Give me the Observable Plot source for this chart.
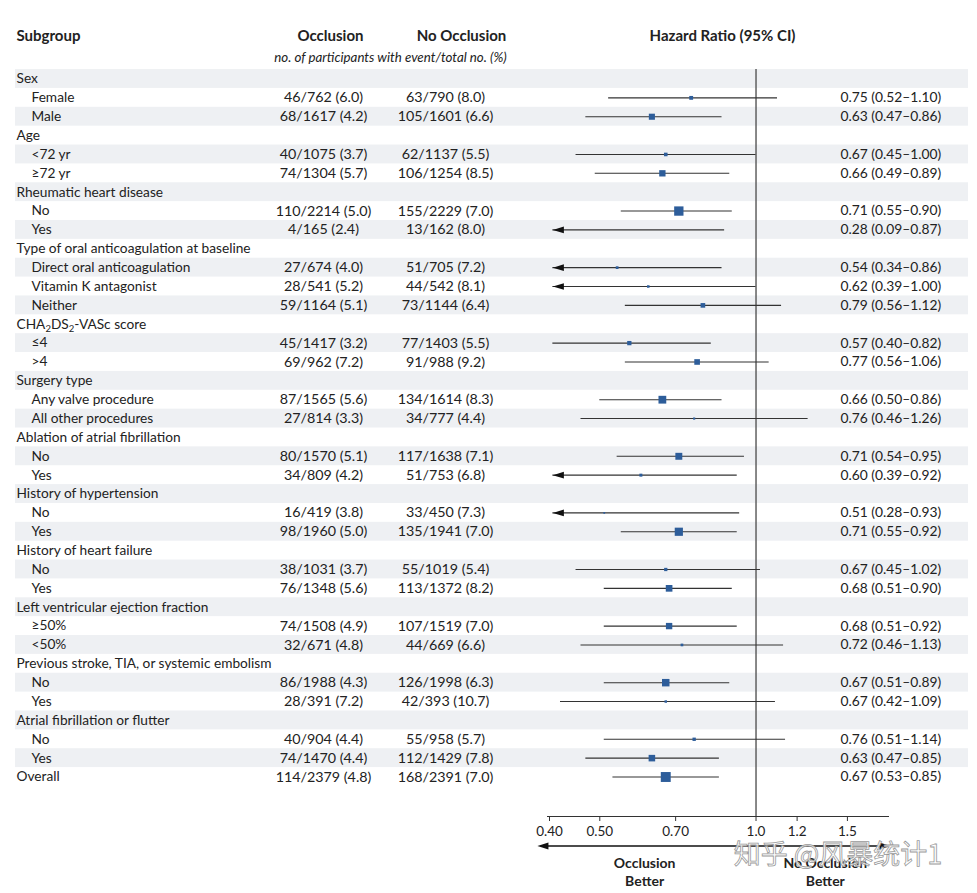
<!DOCTYPE html>
<html><head><meta charset="utf-8">
<script src="https://cdn.jsdelivr.net/npm/d3@7"></script>
<script src="https://cdn.jsdelivr.net/npm/@observablehq/plot@0.6"></script>
<style>body{margin:0;background:#fff;} svg{display:block;}</style>
</head><body><div id="chart"></div>
<script>
// ---- data ----
const groups = ["Sex","Age","Rheumatic heart disease","Type of oral anticoagulation at baseline","CHA2DS2-VASc score","Surgery type","Ablation of atrial fibrillation","History of hypertension","History of heart failure","Left ventricular ejection fraction","Previous stroke, TIA, or systemic embolism","Atrial fibrillation or flutter"];
const subgroups = [["Female","Male"],["<72 yr","≥72 yr"],["No","Yes"],["Direct oral anticoagulation","Vitamin K antagonist","Neither"],["≤4",">4"],["Any valve procedure","All other procedures"],["No","Yes"],["No","Yes"],["No","Yes"],["≥50%","<50%"],["No","Yes"],["No","Yes"]];
const overallLabel = "Overall";
const occEvents = [46,68,40,74,110,4,27,28,59,45,69,87,27,80,34,16,98,38,76,74,32,86,28,40,74,114];
const occTotal  = [762,1617,1075,1304,2214,165,674,541,1164,1417,962,1565,814,1570,809,419,1960,1031,1348,1508,671,1988,391,904,1470,2379];
const occPct    = [6.0,4.2,3.7,5.7,5.0,2.4,4.0,5.2,5.1,3.2,7.2,5.6,3.3,5.1,4.2,3.8,5.0,3.7,5.6,4.9,4.8,4.3,7.2,4.4,4.4,4.8];
const noEvents  = [63,105,62,106,155,13,51,44,73,77,91,134,34,117,51,33,135,55,113,107,44,126,42,55,112,168];
const noTotal   = [790,1601,1137,1254,2229,162,705,542,1144,1403,988,1614,777,1638,753,450,1941,1019,1372,1519,669,1998,393,958,1429,2391];
const noPct     = [8.0,6.6,5.5,8.5,7.0,8.0,7.2,8.1,6.4,5.5,9.2,8.3,4.4,7.1,6.8,7.3,7.0,5.4,8.2,7.0,6.6,6.3,10.7,5.7,7.8,7.0];
const hr        = [0.75,0.63,0.67,0.66,0.71,0.28,0.54,0.62,0.79,0.57,0.77,0.66,0.76,0.71,0.60,0.51,0.71,0.67,0.68,0.68,0.72,0.67,0.67,0.76,0.63,0.67];
const ciLow     = [0.52,0.47,0.45,0.49,0.55,0.09,0.34,0.39,0.56,0.40,0.56,0.50,0.46,0.54,0.39,0.28,0.55,0.45,0.51,0.51,0.46,0.51,0.42,0.51,0.47,0.53];
const ciHigh    = [1.10,0.86,1.00,0.89,0.90,0.87,0.86,1.00,1.12,0.82,1.06,0.86,1.26,0.95,0.92,0.93,0.92,1.02,0.90,0.92,1.13,0.89,1.09,1.14,0.85,0.85];
const tickValues = [0.4,0.5,0.7,1.0,1.2,1.5];
const tickLabels = ["0.40","0.50","0.70","1.0","1.2","1.5"];
const betterLabels = ["Occlusion\nBetter","No Occlusion\nBetter"];
const betterAt = [0.61, 1.36];
const betterArrowEnds = [0.38, 1.82];

// ---- build rows ----
const rows = [];
let i = 0, k = 0;
groups.forEach((g, gi) => {
  rows.push({i: i++, label: g, type: "group"});
  subgroups[gi].forEach(s => rows.push({i: i++, label: s, type: "sub", k: k++}));
});
rows.push({i: i++, label: overallLabel, type: "overall", k: k++});
const dataRows = rows.filter(r => r.k !== undefined).map(r => ({
  ...r,
  events: occEvents[r.k] + noEvents[r.k],
  occ: `${occEvents[r.k]}/${occTotal[r.k]} (${occPct[r.k].toFixed(1)})`,
  no: `${noEvents[r.k]}/${noTotal[r.k]} (${noPct[r.k].toFixed(1)})`,
  hr: hr[r.k], lo: ciLow[r.k], hi: ciHigh[r.k],
  hrText: `${hr[r.k].toFixed(2)} (${ciLow[r.k].toFixed(2)}–${ciHigh[r.k].toFixed(2)})`
}));
const xMin = 0.4, xMax = 1.8;
const tip = xMin * 1.015;
const shaded = rows.filter(r => r.i % 2 === 0);
const arrowRows = dataRows.filter(r => r.lo < xMin);
const ink = "#222";
const font = "Lato, 'Open Sans', sans-serif";

const chart = Plot.plot({
  width: 977, height: 893,
  marginLeft: 15, marginRight: 9, marginTop: 69, marginBottom: 77,
  style: {fontFamily: font, fontSize: "13.7px", color: ink, background: "#fff"},
  x: {type: "log", domain: [xMin, xMax], range: [549, 888]},
  y: {domain: [0, rows.length - 1], range: [78.5, 776.5], axis: null},
  r: {type: "linear", domain: [0, d3.max(dataRows, d => d.events)], range: [0, 5.6]},
  marks: [
    Plot.rect(shaded, {y1: d => d.i - 0.5, y2: d => d.i + 0.5, fill: "#eef0f3"}),
    Plot.ruleX([1], {stroke: "#555", strokeWidth: 1.4}),
    Plot.ruleY(dataRows, {y: "i", x1: d => Math.max(d.lo, tip), x2: "hi", stroke: "#333", strokeWidth: 1.1}),
    Plot.dot(arrowRows, {y: "i", x: () => tip, fill: "#111", stroke: null,
      symbol: {draw(ctx) { ctx.moveTo(0, 0); ctx.lineTo(11, -3.3); ctx.lineTo(11, 3.3); ctx.closePath(); }}}),
    Plot.dot(dataRows.filter(d => d.hr >= xMin), {x: "hr", y: "i", r: "events", symbol: "square", fill: "#2d5d9a", stroke: null}),
    // labels
    Plot.text(rows.filter(r => r.type !== "sub"), {y: "i", text: "label", frameAnchor: "left", textAnchor: "start", dx: 1, fill: ink}),
    Plot.text(rows.filter(r => r.type === "sub"), {y: "i", text: "label", frameAnchor: "left", textAnchor: "start", dx: 16, fill: ink}),
    Plot.text(dataRows, {y: "i", text: "occ", frameAnchor: "left", textAnchor: "middle", dx: 308, fill: ink, fontSize: 14.3}),
    Plot.text(dataRows, {y: "i", text: "no", frameAnchor: "left", textAnchor: "middle", dx: 430, fill: ink, fontSize: 14.3}),
    Plot.text(dataRows, {y: "i", text: "hrText", frameAnchor: "left", textAnchor: "start", dx: 825, fill: ink, fontSize: 13.8}),
    // headers
    Plot.text(["Subgroup"], {text: d => d, frameAnchor: "top-left", lineAnchor: "middle", textAnchor: "start", dx: 1, dy: -33, fontWeight: "bold", fontSize: 15, fill: ink}),
    Plot.text(["Occlusion"], {text: d => d, frameAnchor: "top-left", lineAnchor: "middle", textAnchor: "middle", dx: 315, dy: -33, fontWeight: "bold", fontSize: 15, fill: ink}),
    Plot.text(["No Occlusion"], {text: d => d, frameAnchor: "top-left", lineAnchor: "middle", textAnchor: "middle", dx: 446, dy: -33, fontWeight: "bold", fontSize: 15, fill: ink}),
    Plot.text(["no. of participants with event/total no. (%)"], {text: d => d, frameAnchor: "top-left", lineAnchor: "middle", textAnchor: "middle", dx: 375, dy: -12, fontStyle: "italic", fontSize: 13.3, fill: ink}),
    Plot.text(["Hazard Ratio (95% CI)"], {text: d => d, frameAnchor: "top-left", lineAnchor: "middle", textAnchor: "middle", dx: 707, dy: -33, fontWeight: "bold", fontSize: 15, fill: ink}),
    // axis
    Plot.frame({anchor: "bottom", insetLeft: 532, insetRight: 80, stroke: "#333"}),
    Plot.axisX({ticks: tickValues, tickFormat: d => tickLabels[tickValues.indexOf(d)], tickSize: 5, tickPadding: 5, label: null, fontSize: 13.5, stroke: "#333", color: ink}),
    Plot.text(betterLabels, {x: (d, j) => betterAt[j], text: d => d, frameAnchor: "bottom", lineAnchor: "middle", dy: 55, lineHeight: 1.3, fontWeight: "bold", fontSize: 14, fill: ink})
  ]
});
document.getElementById("chart").appendChild(chart);

// bottom direction arrows, positioned with the chart's x scale
const svg = d3.select(chart);
const sx = chart.scale("x");
const yArr = 846;
const gA = svg.append("g");
[[1, betterArrowEnds[0]], [1, betterArrowEnds[1]]].forEach(([a, b]) => {
  const x0 = sx.apply(a), x1 = sx.apply(b), s = Math.sign(x1 - x0);
  gA.append("line").attr("x1", x0).attr("x2", x1 - s * 6).attr("y1", yArr).attr("y2", yArr).attr("stroke", "#111").attr("stroke-width", 1.3);
  gA.append("path").attr("d", `M${x1},${yArr}L${x1 - s * 11},${yArr - 3.5}L${x1 - s * 11},${yArr + 3.5}Z`).attr("fill", "#111");
});

// watermark
svg.append("text").attr("x", 838).attr("y", 864).attr("text-anchor", "middle")
  .attr("font-family", "'Noto Sans CJK SC', sans-serif").attr("font-size", 27)
  .attr("fill", "#fff").attr("fill-opacity", 0.85).attr("stroke", "#999").attr("stroke-width", 0.8)
  .text("知乎 @风暴统计1");

// subscripts for CHA2DS2-VASc
svg.selectAll("text").filter(function() { return this.textContent === "CHA2DS2-VASc score"; }).each(function() {
  const t = d3.select(this);
  t.text(null);
  const parts = [["CHA", 0], ["2", 1], ["DS", 0], ["2", 1], ["-VASc score", 0]];
  let prev = 0;
  parts.forEach(([s, sub]) => {
    const sp = t.append("tspan").text(s);
    if (sub) sp.attr("font-size", 9.5);
    const shift = sub ? 3 : 0;
    if (shift - prev) sp.attr("dy", shift - prev);
    prev = shift;
  });
});
</script></body></html>
